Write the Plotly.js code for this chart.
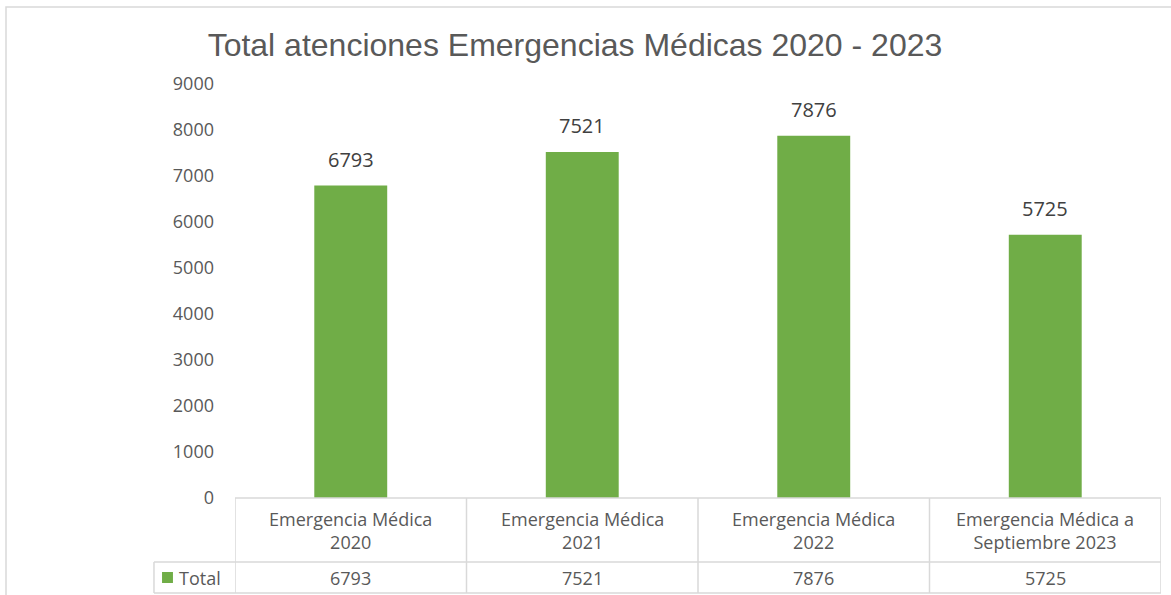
<!DOCTYPE html>
<html>
<head>
<meta charset="utf-8">
<script src="https://cdn.plot.ly/plotly-3.0.1.min.js"></script>
<style>
  html, body { margin: 0; padding: 0; background: #ffffff; }
  #chart { width: 1171px; height: 595px; }
</style>
</head>
<body>
<div id="chart"></div>
<script>
var categories = ['Emergencia Médica<br>2020', 'Emergencia Médica<br>2021', 'Emergencia Médica<br>2022', 'Emergencia Médica a<br>Septiembre 2023'];
var totals = [6793, 7521, 7876, 5725];
var seriesName = 'Total';
var yTicks = [0, 1000, 2000, 3000, 4000, 5000, 6000, 7000, 8000, 9000];

var green = '#70ad47';
var gridGray = '#d9d9d9';
var textFont = 'Open Sans, Noto Sans, sans-serif';

var xIdx = categories.map(function (c, i) { return i; });

var trace = {
    x: xIdx,
    y: totals,
    type: 'bar',
    name: seriesName,
    width: 0.315,
    marker: { color: green },
    hoverinfo: 'y'
};

// table rows below the plot, in paper units
var rowTop = 0, rowMid = -0.1546, rowBot = -0.2295;

var shapes = [
    // chart border
    { type: 'rect', xref: 'paper', yref: 'paper', x0: -0.2473, x1: 1.02, y0: -0.30, y1: 1.186,
      line: { color: gridGray, width: 1.5 }, fillcolor: 'rgba(0,0,0,0)', layer: 'below' },
    // header top line (axis line)
    { type: 'line', xref: 'x', yref: 'paper', x0: -0.5, x1: 3.5, y0: rowTop, y1: rowTop,
      line: { color: gridGray, width: 1.5 } },
    // line between header and values row
    { type: 'line', xref: 'paper', yref: 'paper', x0: -0.0875, x1: 1, y0: rowMid, y1: rowMid,
      line: { color: gridGray, width: 1.5 } },
    // bottom of table
    { type: 'line', xref: 'paper', yref: 'paper', x0: -0.0875, x1: 1, y0: rowBot, y1: rowBot,
      line: { color: gridGray, width: 1.5 } },
    // legend cell left edge
    { type: 'line', xref: 'paper', yref: 'paper', x0: -0.0875, x1: -0.0875, y0: rowMid, y1: rowBot,
      line: { color: gridGray, width: 1.5 } },
    // legend key
    { type: 'rect', xref: 'paper', yref: 'paper', x0: -0.0788, x1: -0.0670, y0: -0.1787, y1: -0.2053,
      line: { width: 0 }, fillcolor: green }
];
[-0.5, 0.5, 1.5, 2.5, 3.5].forEach(function (xb) {
    shapes.push({ type: 'line', xref: 'x', yref: 'paper', x0: xb, x1: xb, y0: rowTop, y1: rowBot,
                  line: { color: gridGray, width: 1.5 } });
});

var annotations = [];
xIdx.forEach(function (i) {
    // value label above each bar
    annotations.push({ x: i, y: totals[i], xref: 'x', yref: 'y', text: String(totals[i]),
        showarrow: false, yanchor: 'bottom', yshift: 11,
        font: { family: textFont, size: 20, color: '#404040' } });
    // header cell
    annotations.push({ x: i, y: -0.0773, xref: 'x', yref: 'paper', text: categories[i],
        showarrow: false, yanchor: 'middle',
        font: { family: textFont, size: 18, color: '#595959' } });
    // value cell
    annotations.push({ x: i, y: -0.1925, xref: 'x', yref: 'paper', text: String(totals[i]),
        showarrow: false, yanchor: 'middle',
        font: { family: textFont, size: 18, color: '#595959' } });
});
annotations.push({ x: -0.0625, y: -0.1925, xref: 'paper', yref: 'paper', text: seriesName,
    showarrow: false, xanchor: 'left', yanchor: 'middle',
    font: { family: textFont, size: 18, color: '#595959' } });

var layout = {
    width: 1171,
    height: 595,
    margin: { l: 235, r: 10, t: 84, b: 97 },
    paper_bgcolor: '#ffffff',
    plot_bgcolor: '#ffffff',
    showlegend: false,
    title: {
        text: 'Total atenciones Emergencias Médicas 2020 - 2023',
        x: 0.491, xanchor: 'center',
        y: 0.925, yanchor: 'middle',
        font: { family: 'Liberation Sans, Arial, sans-serif', size: 32, color: '#595959' }
    },
    xaxis: {
        range: [-0.5, 3.5],
        showticklabels: false,
        showgrid: false,
        zeroline: false,
        showline: false,
        ticks: ''
    },
    yaxis: {
        range: [0, 9000],
        tickvals: yTicks,
        showgrid: false,
        zeroline: false,
        showline: false,
        ticks: '',
        ticklabelstandoff: 20,
        tickfont: { family: textFont, size: 18, color: '#595959' }
    },
    shapes: shapes,
    annotations: annotations
};

Plotly.newPlot('chart', [trace], layout, { displayModeBar: false, staticPlot: true });
</script>
</body>
</html>
